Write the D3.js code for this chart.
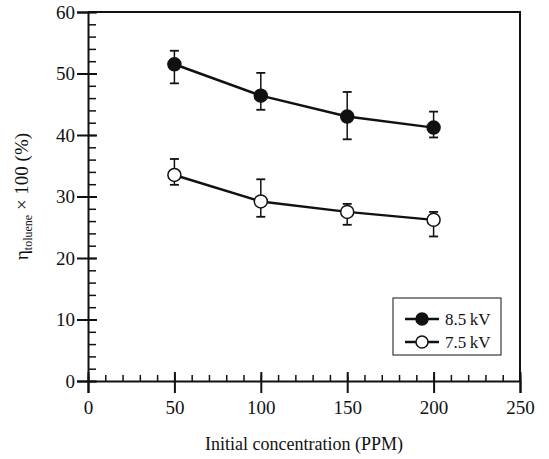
<!DOCTYPE html>
<html>
<head>
<meta charset="utf-8">
<script src="https://d3js.org/d3.v7.min.js"></script>
<style>
  body { margin: 0; background: #fff; }
  text { font-family: "Liberation Serif", "Times New Roman", serif; fill: #111; }
</style>
</head>
<body>
<div id="chart"></div>
<script>
// data
var concentration = [50, 100, 150, 200];
var eff85 = [51.5, 46.4, 43.0, 41.2];
var eff85Hi = [53.7, 50.1, 47.0, 43.8];
var eff85Lo = [48.4, 44.1, 39.3, 39.6];
var eff75 = [33.5, 29.2, 27.5, 26.2];
var eff75Hi = [36.1, 32.8, 28.8, 27.5];
var eff75Lo = [31.9, 26.7, 25.4, 23.5];
var seriesNames = ["8.5\u2009kV", "7.5\u2009kV"];
var xTicks = [0, 50, 100, 150, 200, 250];
var yTicks = [0, 10, 20, 30, 40, 50, 60];

var W = 549, H = 459;
var margin = {top: 12, right: 29, bottom: 78, left: 88};
var width = W - margin.left - margin.right,
    height = H - margin.top - margin.bottom;

var svg = d3.select("#chart").append("svg")
    .attr("width", W).attr("height", H)
  .append("g")
    .attr("transform", "translate(" + margin.left + "," + margin.top + ")");

var x = d3.scaleLinear().domain([0, 250]).range([0, width]);
var y = d3.scaleLinear().domain([0, 60]).range([height, 0]);

// frame (top and right)
svg.append("path")
  .attr("d", "M0,0H" + width + "V" + height)
  .attr("fill", "none").attr("stroke", "#111").attr("stroke-width", 2);

// minor ticks
svg.append("g")
  .attr("transform", "translate(0," + height + ")")
  .call(d3.axisBottom(x).tickValues(d3.range(0, 251, 10)).tickSize(-6).tickFormat(""))
  .call(function (g) { g.select(".domain").remove(); g.selectAll("line").attr("stroke", "#111").attr("stroke-width", 1.5); });
svg.append("g")
  .call(d3.axisLeft(y).tickValues(d3.range(0, 61, 2)).tickSize(-8).tickFormat(""))
  .call(function (g) { g.select(".domain").remove(); g.selectAll("line").attr("stroke", "#111").attr("stroke-width", 1.5); });

// major ticks, crossing the axes
var xAxis = svg.append("g")
  .attr("transform", "translate(0," + height + ")")
  .call(d3.axisBottom(x).tickValues(xTicks).tickSize(12).tickPadding(8));
xAxis.selectAll(".tick line").clone().attr("y2", -9);
var yAxis = svg.append("g")
  .call(d3.axisLeft(y).tickValues(yTicks).tickSize(11).tickPadding(2));
yAxis.selectAll(".tick line").clone().attr("x2", 9);

[xAxis, yAxis].forEach(function (g) {
  g.select(".domain").attr("stroke", "#111").attr("stroke-width", 2);
  g.selectAll(".tick line").attr("stroke", "#111").attr("stroke-width", 2);
  g.selectAll("text").style("font-size", "19px").style("font-family", "Liberation Serif").attr("fill", "#111");
});
yAxis.selectAll("text").attr("dy", "0.34em");

// axis titles
svg.append("text")
  .attr("x", width / 2).attr("y", height + 69)
  .attr("text-anchor", "middle")
  .style("font-size", "18px")
  .text("Initial concentration (PPM)");

var yl = svg.append("text")
  .attr("transform", "translate(" + (-60) + "," + (height / 2) + ") rotate(-90)")
  .attr("text-anchor", "middle")
  .style("font-size", "19px");
yl.append("tspan").text("\u03b7");
yl.append("tspan").attr("dy", 4).style("font-size", "12px").text("toluene");
yl.append("tspan").attr("dy", -4).text(" \u00d7 100 (%)");

// series
var series = [
  {name: seriesNames[0], v: eff85, hi: eff85Hi, lo: eff85Lo, fill: "#111"},
  {name: seriesNames[1], v: eff75, hi: eff75Hi, lo: eff75Lo, fill: "#fff"}
];
var line = d3.line().x(function (d) { return x(d[0]); }).y(function (d) { return y(d[1]); });

series.forEach(function (s) {
  var pts = concentration.map(function (c, i) { return [c, s.v[i], s.hi[i], s.lo[i]]; });
  var g = svg.append("g");
  g.append("path").datum(pts).attr("d", line)
    .attr("fill", "none").attr("stroke", "#111").attr("stroke-width", 2.5);
  var eb = g.selectAll(".eb").data(pts).enter().append("g");
  eb.append("line")
    .attr("x1", function (d) { return x(d[0]); }).attr("x2", function (d) { return x(d[0]); })
    .attr("y1", function (d) { return y(d[2]); }).attr("y2", function (d) { return y(d[3]); })
    .attr("stroke", "#111").attr("stroke-width", 1.5);
  [2, 3].forEach(function (k) {
    eb.append("line")
      .attr("x1", function (d) { return x(d[0]) - 4.5; }).attr("x2", function (d) { return x(d[0]) + 4.5; })
      .attr("y1", function (d) { return y(d[k]); }).attr("y2", function (d) { return y(d[k]); })
      .attr("stroke", "#111").attr("stroke-width", 1.8);
  });
  g.selectAll("circle").data(pts).enter().append("circle")
    .attr("cx", function (d) { return x(d[0]); })
    .attr("cy", function (d) { return y(d[1]); })
    .attr("r", 6.5)
    .attr("fill", s.fill).attr("stroke", "#111").attr("stroke-width", 1.5);
});

// legend
var lg = svg.append("g").attr("transform", "translate(" + (393 - margin.left) + "," + (298 - margin.top) + ")");
lg.append("rect").attr("width", 108).attr("height", 57)
  .attr("fill", "#fff").attr("stroke", "#111").attr("stroke-width", 1);
series.forEach(function (s, i) {
  var yy = 21 + i * 23;
  lg.append("line").attr("x1", 12).attr("x2", 46).attr("y1", yy).attr("y2", yy)
    .attr("stroke", "#111").attr("stroke-width", 2.5);
  lg.append("circle").attr("cx", 29).attr("cy", yy).attr("r", 6)
    .attr("fill", s.fill).attr("stroke", "#111").attr("stroke-width", 1.5);
  lg.append("text").attr("x", 52).attr("y", yy).attr("dy", "0.35em")
    .style("font-size", "17px").text(s.name);
});
</script>
</body>
</html>
